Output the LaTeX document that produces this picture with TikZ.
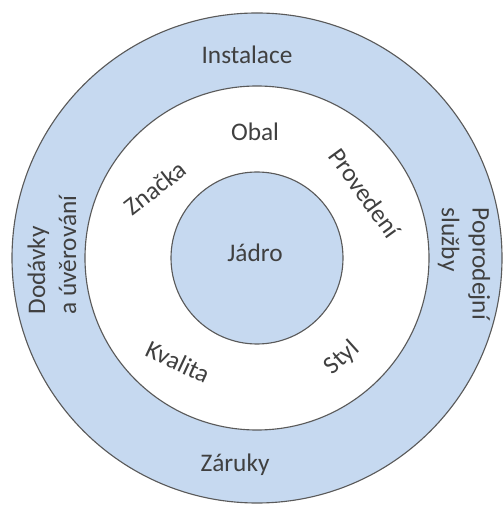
\documentclass[tikz,border=0pt]{standalone}
\usepackage{fontspec}
\setmainfont{Carlito}
\usetikzlibrary{positioning}
\definecolor{ringblue}{RGB}{198,217,240}
\definecolor{ringline}{RGB}{90,90,90}
\definecolor{labelcol}{RGB}{64,64,64}

\begin{document}
\begin{tikzpicture}[x=0.025cm,y=0.025cm,
  ring/.style={draw=ringline,line width=0.8pt},
  lab/.style={text=labelcol,font=\fontsize{18}{22}\selectfont,inner sep=0pt}]
\useasboundingbox (0,0) rectangle (504,507);
% three rings
\coordinate (c) at (257,249);
\draw[ring,fill=ringblue] (c) circle[radius=245];
\draw[ring,fill=white] (c) circle[radius=172];
\draw[ring,fill=ringblue] (c) circle[radius=86];
% core
\node[lab] (core) at (255,254) {Jádro};
% middle ring
\node[lab] (obal) at (255,375) {Obal};
\node[lab,rotate=38] (znacka) at (155,319) {Značka};
\node[lab,rotate=-54] (provedeni) at (365,314) {Provedení};
\node[lab,rotate=-25] (kvalita) at (178,145) {Kvalita};
\node[lab,rotate=42] (styl) at (342,149) {Styl};
% outer ring
\node[lab] (instalace) at (247,452) {Instalace};
\node[lab] (zaruky) at (235,42) {Záruky};
\node[lab,rotate=90,align=left] (dodavky) at (52,252) {Dodávky\\a úvěrování};
\node[lab,rotate=-90,align=left] (poprodejni) at (464,243) {Poprodejní\\služby};
\end{tikzpicture}
\end{document}
